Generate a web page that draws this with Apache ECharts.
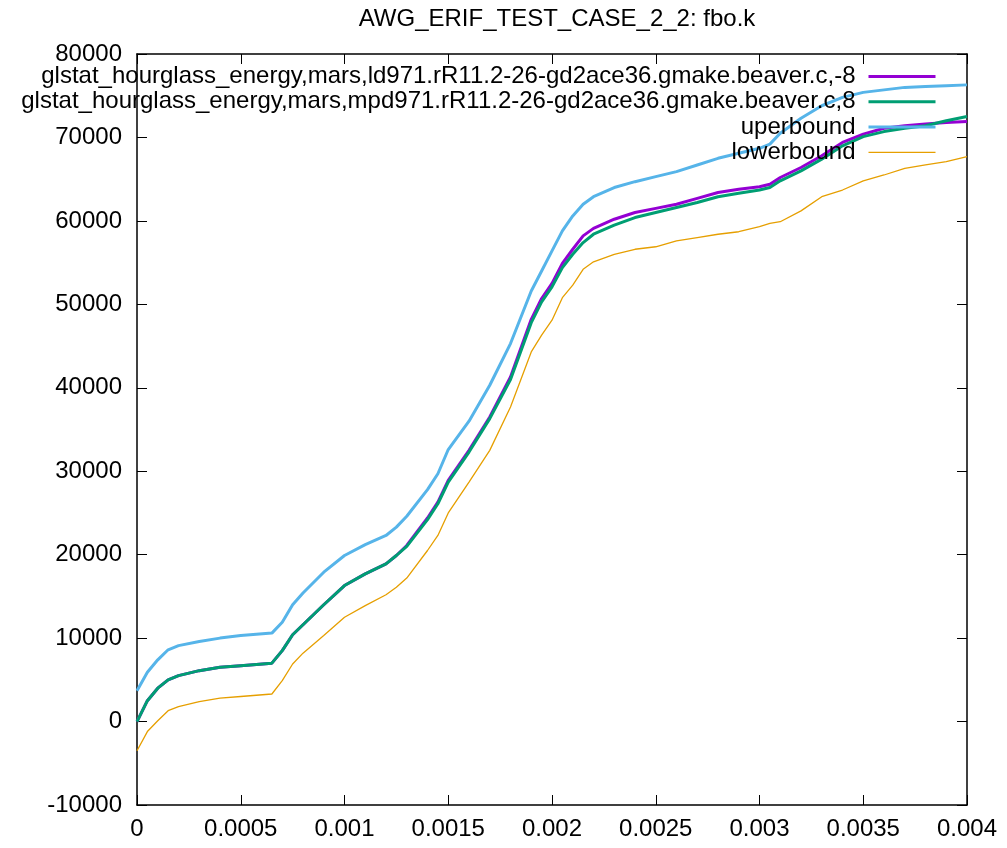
<!DOCTYPE html>
<html>
<head>
<meta charset="utf-8">
<script src="https://cdn.jsdelivr.net/npm/echarts@6/dist/echarts.min.js"></script>
<style>
html,body{margin:0;padding:0;background:#fff;}
#c{width:1007px;height:848px;}
</style>
</head>
<body>
<div id="c"></div>
<script>
const titleText = 'AWG_ERIF_TEST_CASE_2_2: fbo.k';
const seriesNames = [
  'glstat_hourglass_energy,mars,ld971.rR11.2-26-gd2ace36.gmake.beaver.c,-8',
  'glstat_hourglass_energy,mars,mpd971.rR11.2-26-gd2ace36.gmake.beaver.c,8',
  'uperbound',
  'lowerbound'
];
const times = [0, 0.00005, 0.0001, 0.00015, 0.0002, 0.0003, 0.0004, 0.0005, 0.00065, 0.0007,
  0.00075, 0.0008, 0.0009, 0.001, 0.0011, 0.0012, 0.00125, 0.0013, 0.0014, 0.00145,
  0.0015, 0.0016, 0.0017, 0.0018, 0.0019, 0.00195, 0.002, 0.00205, 0.0021, 0.00215,
  0.0022, 0.0023, 0.0024, 0.0025, 0.0026, 0.0027, 0.0028, 0.0029, 0.003, 0.00305,
  0.0031, 0.0032, 0.0033, 0.0034, 0.0035, 0.0036, 0.0037, 0.0038, 0.0039, 0.004];
const ld971 = [0, 2500, 4000, 5000, 5500, 6100, 6500, 6700, 7000, 8500,
  10400, 11600, 14000, 16300, 17700, 18900, 19900, 21100, 24400, 26300,
  28900, 32500, 36500, 41300, 48200, 50700, 52500, 54900, 56600, 58200,
  59100, 60200, 61000, 61500, 62000, 62700, 63400, 63800, 64100, 64400,
  65200, 66400, 67800, 69400, 70400, 71100, 71400, 71600, 71800, 71900];
const mpd971 = [0, 2500, 4000, 5000, 5500, 6100, 6500, 6700, 7000, 8500,
  10400, 11600, 14000, 16300, 17700, 18900, 19900, 21000, 24200, 26100,
  28700, 32300, 36300, 41000, 47800, 50300, 52100, 54400, 56000, 57400,
  58400, 59500, 60400, 61000, 61600, 62200, 62900, 63300, 63700, 64000,
  64800, 66000, 67400, 69000, 70100, 70700, 71100, 71400, 72000, 72500];
const upper = [3700, 5900, 7400, 8600, 9100, 9600, 10000, 10300, 10600, 11900,
  14000, 15400, 17900, 19900, 21200, 22300, 23300, 24600, 27800, 29700,
  32600, 36000, 40300, 45300, 51600, 54000, 56400, 58800, 60600, 62000,
  62900, 64000, 64700, 65300, 65900, 66700, 67500, 68100, 68700, 69200,
  70500, 72300, 73800, 74800, 75400, 75700, 76000, 76100, 76200, 76300];
const lower = [-3500, -1200, 100, 1300, 1800, 2400, 2800, 3000, 3300, 4900,
  6900, 8200, 10300, 12500, 13900, 15200, 16100, 17200, 20500, 22300,
  25000, 28700, 32500, 37700, 44300, 46300, 48100, 50800, 52300, 54200,
  55100, 56000, 56600, 56900, 57600, 58000, 58400, 58700, 59300, 59700,
  59900, 61200, 62900, 63700, 64800, 65500, 66300, 66700, 67100, 67700];
const xTicks = {min: 0, max: 0.004, interval: 0.0005};
const yTicks = {min: -10000, max: 80000, interval: 10000};

const colors = ['#9400d3', '#009e73', '#56b4e9', '#e69f00'];
const widths = [3, 3, 3, 1.3];
const values = [ld971, mpd971, upper, lower];
const font = 'Liberation Sans, Arial, sans-serif';

const chart = echarts.init(document.getElementById('c'), null, {renderer: 'canvas'});
const axisLine = {show: true, onZero: false, lineStyle: {color: '#000', width: 1.5}};
const tick = {show: true, inside: true, length: 10, lineStyle: {color: '#000', width: 1}};
const fmtX = v => String(+v.toFixed(6));
const fmtY = v => String(v);

chart.setOption({
  animation: false,
  backgroundColor: '#fff',
  title: {
    text: titleText, left: 552, textAlign: 'center', top: 2,
    textStyle: {fontFamily: font, fontSize: 24, fontWeight: 'normal', color: '#000'}
  },
  legend: {
    orient: 'vertical', right: 70, top: 64, align: 'right', padding: 0,
    itemWidth: 67, itemHeight: 20, itemGap: 0.3,
    itemStyle: {opacity: 0},
    textStyle: {fontFamily: font, fontSize: 24, lineHeight: 25, color: '#000', padding: [0, 8, 0, 0]},
    data: seriesNames.map((n, i) => ({name: n, lineStyle: {color: colors[i], width: widths[i]}}))
  },
  grid: {left: 137, right: 40, top: 54, bottom: 43, containLabel: false},
  xAxis: [
    {type: 'value', min: xTicks.min, max: xTicks.max, interval: xTicks.interval, position: 'bottom',
     axisLine, axisTick: tick, splitLine: {show: false},
     axisLabel: {fontFamily: font, fontSize: 24, color: '#000', margin: 12, formatter: fmtX}},
    {type: 'value', min: xTicks.min, max: xTicks.max, interval: xTicks.interval, position: 'top',
     axisLine, axisTick: tick, splitLine: {show: false}, axisLabel: {show: false}}
  ],
  yAxis: [
    {type: 'value', min: yTicks.min, max: yTicks.max, interval: yTicks.interval, position: 'left',
     axisLine, axisTick: tick, splitLine: {show: false},
     axisLabel: {fontFamily: font, fontSize: 24, color: '#000', margin: 15, formatter: fmtY}},
    {type: 'value', min: yTicks.min, max: yTicks.max, interval: yTicks.interval, position: 'right',
     axisLine, axisTick: tick, splitLine: {show: false}, axisLabel: {show: false}}
  ],
  series: seriesNames.map((n, i) => ({
    name: n, type: 'line', showSymbol: false, symbol: 'none',
    data: times.map((t, k) => [t, values[i][k]]),
    lineStyle: {color: colors[i], width: widths[i]},
    itemStyle: {color: colors[i]}
  }))
});
</script>
</body>
</html>
